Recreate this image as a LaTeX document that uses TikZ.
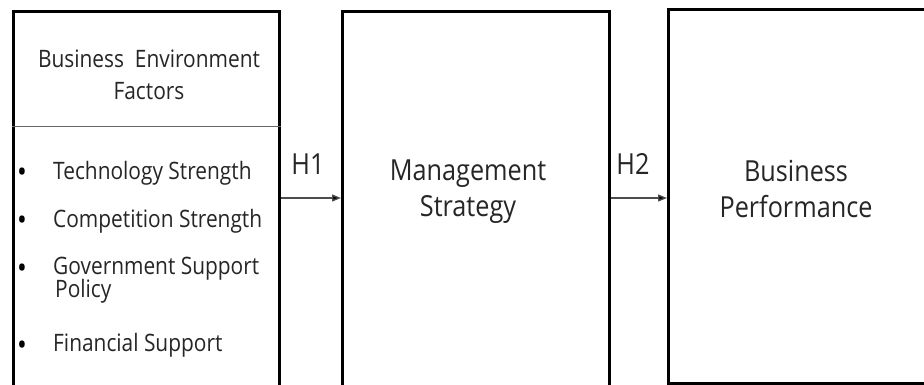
\documentclass[tikz,border=0pt]{standalone}
\usepackage{fontspec}
\setmainfont{Open Sans}[FakeStretch=0.87]
\usetikzlibrary{arrows.meta,calc}
\begin{document}
\begin{tikzpicture}[x=1pt,y=-1pt,
  box/.style={draw=black,line width=3pt,fill=white,inner sep=0pt,anchor=north west},
  txt/.style={inner sep=0pt,font=\fontsize{24}{32}\selectfont,text=black!85},
  bigtxt/.style={inner sep=0pt,align=center,font=\fontsize{29}{36}\selectfont,text=black!85},
  item/.style={txt,anchor=west,align=left},
  dot/.style={inner sep=0pt,anchor=center,font=\fontsize{30}{30}\selectfont,text=black},
  arr/.style={draw=black!70,line width=1.3pt,-{Triangle[length=9pt,width=7pt,fill=black]}}
]
\useasboundingbox (0,0) rectangle (924,385);
\fill[white] (0,0) rectangle (924,385);

% the three blocks; lower and right borders run off the page
\node[box,minimum width=266,minimum height=420] (env) at (12,10) {};
\node[box,minimum width=267,minimum height=420] (strat) at (341,10) {};
\node[box,minimum width=270,minimum height=374] (perf) at (667,8) {};

% divider under the block title
\coordinate (div) at (0,127);
\draw[black!60,line width=1pt] (env.west |- div) -- (env.east |- div);

\node[txt,align=center] (envtitle) at (149,75) {Business\ \ Environment\\Factors};

\node[dot] (b1) at (22,175) {•};
\node[item] (i1) at (53,173) {Technology Strength};
\node[dot] (b2) at (22,223) {•};
\node[item] (i2) at (53,221) {Competition Strength};
\node[dot] (b3) at (22,271) {•};
\node[item,font=\fontsize{24}{24}\selectfont] (i3) at (53,280) {Government Support\\[-1pt]\hspace*{2pt}Policy};
\node[dot] (b4) at (22,348) {•};
\node[item] (i4) at (53,345) {Financial Support};

\node[bigtxt] (strattxt) at (468,192) {Management\\Strategy};
\node[bigtxt] (perftxt) at (796,189) {Business\\Performance};

% hypothesis links
\coordinate (lvl) at (0,198);
\draw[arr] (env.east |- lvl) -- (strat.west |- lvl);
\draw[arr] (strat.east |- lvl) -- (perf.west |- lvl);
\node[txt,font=\fontsize{29}{30}\selectfont] (h1) at (308,164) {H1};
\node[txt,font=\fontsize{29}{30}\selectfont] (h2) at (633,164) {H2};
\end{tikzpicture}
\end{document}
